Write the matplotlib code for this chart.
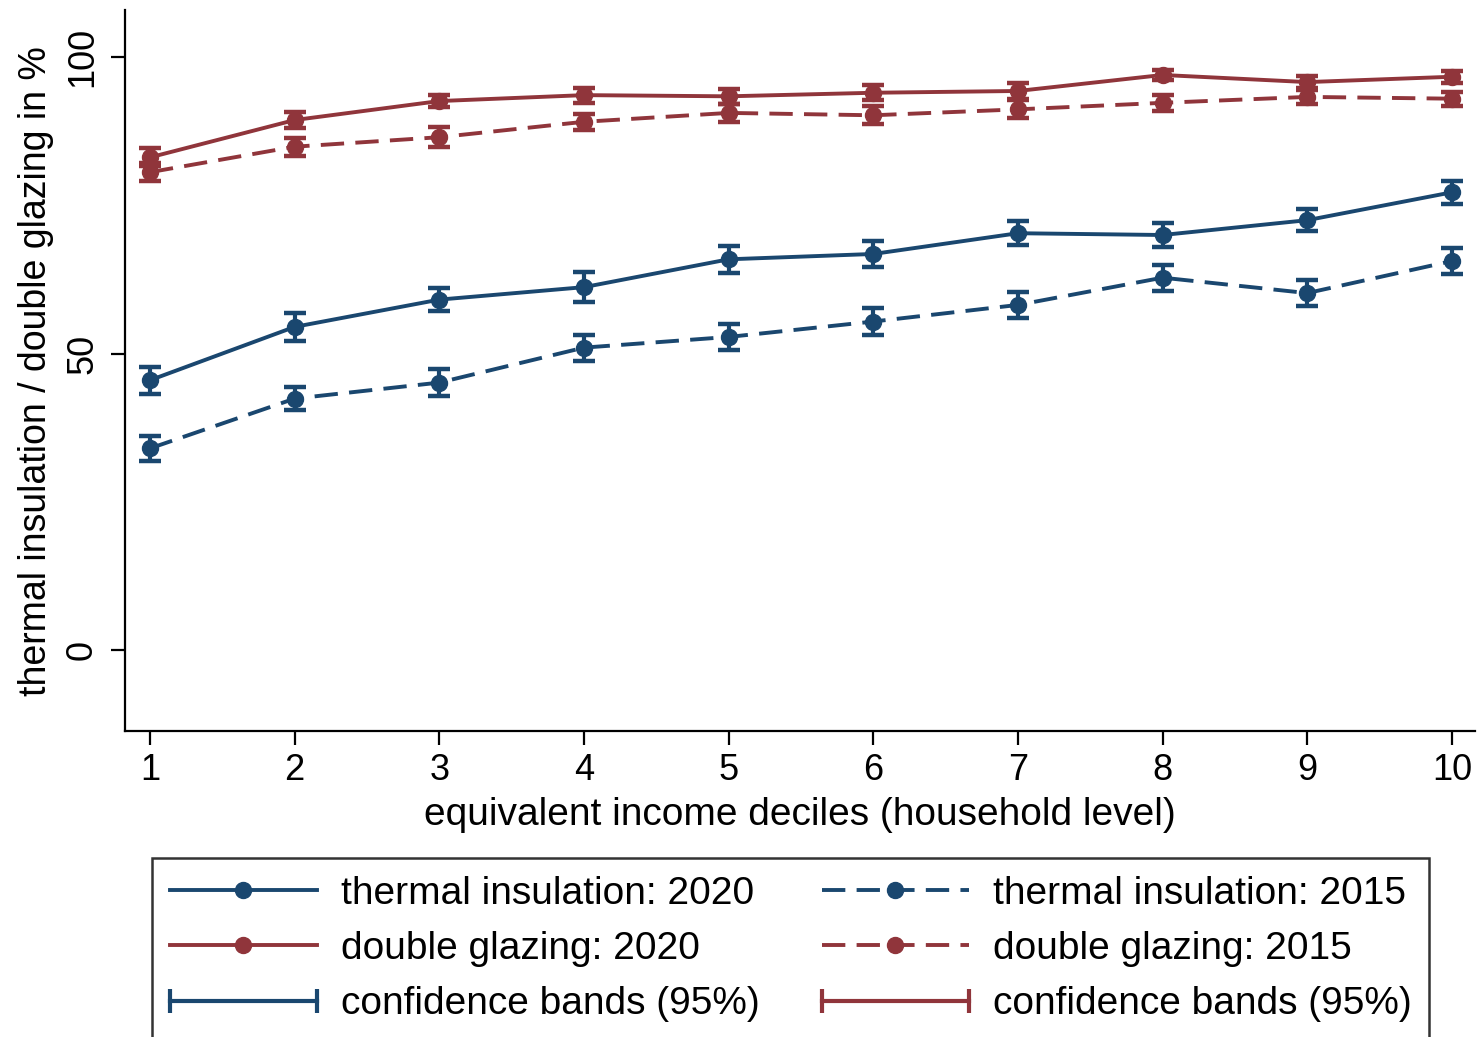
import numpy as np
import matplotlib.pyplot as plt
from matplotlib.lines import Line2D
from matplotlib.legend_handler import HandlerLine2D

plt.rcParams['font.family'] = ['Liberation Sans', 'DejaVu Sans']

# Income deciles and shares (%) with half-widths of the 95% confidence intervals
deciles = [1, 2, 3, 4, 5, 6, 7, 8, 9, 10]

insul_2020 = [45.5, 54.5, 59.1, 61.2, 65.9, 66.8, 70.3, 70.0, 72.5, 77.2]
insul_2020_ci = [2.3, 2.3, 2.0, 2.5, 2.25, 2.25, 2.0, 2.1, 1.9, 1.9]

insul_2015 = [34.0, 42.4, 45.1, 51.0, 52.8, 55.4, 58.2, 62.8, 60.2, 65.6]
insul_2015_ci = [2.1, 2.0, 2.3, 2.2, 2.2, 2.2, 2.2, 2.2, 2.2, 2.25]

glaz_2020 = [83.1, 89.4, 92.6, 93.6, 93.4, 94.0, 94.3, 97.0, 95.8, 96.7]
glaz_2020_ci = [1.5, 1.35, 1.0, 1.25, 1.3, 1.3, 1.3, 0.9, 1.0, 1.0]

glaz_2015 = [80.6, 84.9, 86.5, 89.1, 90.6, 90.2, 91.2, 92.3, 93.3, 93.0]
glaz_2015_ci = [1.5, 1.5, 1.7, 1.3, 1.5, 1.5, 1.5, 1.4, 1.2, 1.2]

navy = '#1a476f'
maroon = '#90353b'
lw = 2.8
ms = 11.5
dash = (6, 2.9)

fig = plt.figure(figsize=(14.83, 10.37), dpi=100)
ax = fig.add_axes([0.0843, 0.295, 0.9103, 0.695])


def draw(y, err, color, dashed):
    eb = ax.errorbar(deciles, y, yerr=err, color=color, lw=lw, marker='o', ms=ms,
                     capsize=8, capthick=3.2, elinewidth=3.0, zorder=3)
    if dashed:
        eb.lines[0].set_dashes(dash)
    return eb


draw(insul_2020, insul_2020_ci, navy, False)
draw(insul_2015, insul_2015_ci, navy, True)
draw(glaz_2020, glaz_2020_ci, maroon, False)
draw(glaz_2015, glaz_2015_ci, maroon, True)

ax.set_xlim(0.827, 10.16)
ax.set_ylim(-13.7, 107.9)
ax.set_xticks(deciles)
ax.set_yticks([0, 50, 100])
for s in ['top', 'right']:
    ax.spines[s].set_visible(False)
for s in ['left', 'bottom']:
    ax.spines[s].set_linewidth(1.6)
ax.tick_params(axis='both', length=10, width=1.6, labelsize=26)
ax.tick_params(axis='y', pad=8)
ax.tick_params(axis='x', pad=6)
for lab in ax.get_yticklabels():
    lab.set_rotation(90)
    lab.set_va('center')

ax.set_xlabel('equivalent income deciles (household level)', fontsize=28, labelpad=6)
ax.set_ylabel('thermal insulation / double glazing in %', fontsize=27, labelpad=8)

# Legend handles
h_ti20 = Line2D([], [], color=navy, lw=lw, marker='o', ms=ms)
h_ti15 = Line2D([], [], color=navy, lw=lw, marker='o', ms=ms, dashes=dash)
h_dg20 = Line2D([], [], color=maroon, lw=lw, marker='o', ms=ms)
h_dg15 = Line2D([], [], color=maroon, lw=lw, marker='o', ms=ms, dashes=dash)
h_cib = Line2D([], [], color=navy, lw=3.0, marker='|', ms=17, mew=3.0)
h_cir = Line2D([], [], color=maroon, lw=3.0, marker='|', ms=17, mew=3.0)

handles = [h_ti20, h_dg20, h_cib, h_ti15, h_dg15, h_cir]
labels = ['thermal insulation: 2020', 'double glazing: 2020', 'confidence bands (95%)',
          'thermal insulation: 2015', 'double glazing: 2015', 'confidence bands (95%)']
ci_handler = HandlerLine2D(numpoints=2, marker_pad=0)

leg = fig.legend(handles, labels, ncol=2, loc='upper left',
                 bbox_to_anchor=(0.1025, 0.1726), borderaxespad=0, fontsize=28,
                 numpoints=1, handlelength=3.8, handletextpad=0.6, columnspacing=1.6,
                 labelspacing=0.5, borderpad=0.45, frameon=True, fancybox=False,
                 handler_map={h_cib: ci_handler, h_cir: ci_handler})
leg.get_frame().set_edgecolor('black')
leg.get_frame().set_linewidth(1.8)

fig.savefig('out.png', dpi=100)
